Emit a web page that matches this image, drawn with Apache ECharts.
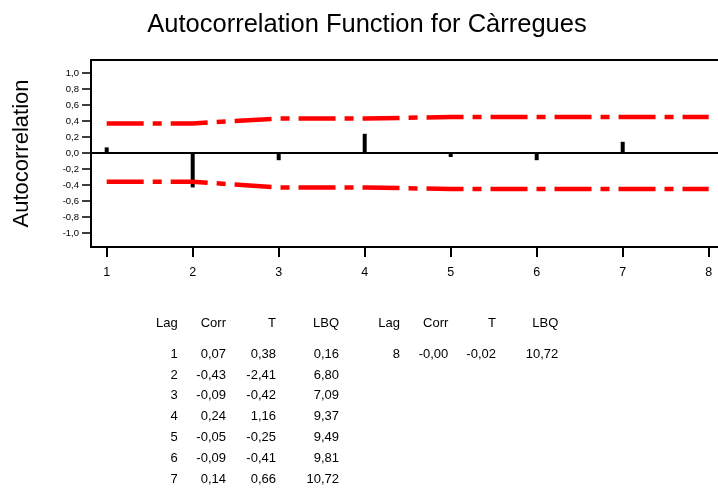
<!DOCTYPE html>
<html>
<head>
<meta charset="utf-8">
<script src="https://cdn.jsdelivr.net/npm/echarts@6/dist/echarts.min.js"></script>
<style>
html,body{margin:0;padding:0;background:#fff;}
#chart{width:718px;height:491px;}
</style>
</head>
<body>
<div id="chart"></div>
<script>
// ---- data ----
var lags = [1, 2, 3, 4, 5, 6, 7, 8];
var corr = [0.07, -0.43, -0.09, 0.24, -0.05, -0.09, 0.14, -0.00];
var tStat = [0.38, -2.41, -0.42, 1.16, -0.25, -0.41, 0.66, -0.02];
var lbq = [0.16, 6.80, 7.09, 9.37, 9.49, 9.81, 10.72, 10.72];
var upperLimit = [0.37, 0.37, 0.43, 0.43, 0.45, 0.45, 0.45, 0.45];
var lowerLimit = [-0.36, -0.36, -0.43, -0.43, -0.45, -0.45, -0.45, -0.45];
var yTicks = [-1.0, -0.8, -0.6, -0.4, -0.2, 0.0, 0.2, 0.4, 0.6, 0.8, 1.0];
var tableHeaders = ['Lag', 'Corr', 'T', 'LBQ'];
var titleText = 'Autocorrelation Function for Càrregues';
var yAxisTitle = 'Autocorrelation';

// ---- helpers ----
function fmt(v, d) {
  var s = v.toFixed(d);
  if (Object.is(v, -0)) s = '-' + (0).toFixed(d);
  return s.replace('.', ',');
}

var FONT = '"Liberation Sans", Arial, sans-serif';

var chart = echarts.init(document.getElementById('chart'), null, {renderer: 'canvas'});

// table as graphic texts
var graphics = [];
var blockCols = [[177.7, 226, 276, 339], [400, 448.3, 496, 558.3]];
var headerY = 323;
var rowY0 = 354.3;
var rowStep = 20.78;
var rowsPerBlock = 7;
var tableFont = '13px ' + FONT;
blockCols.forEach(function (cols) {
  tableHeaders.forEach(function (h, c) {
    graphics.push({
      type: 'text', x: cols[c], y: headerY,
      style: {text: h, font: tableFont, fill: '#000', align: 'right', verticalAlign: 'middle'}
    });
  });
});
lags.forEach(function (lag, i) {
  var b = Math.floor(i / rowsPerBlock);
  var r = i % rowsPerBlock;
  var cols = blockCols[b];
  var y = rowY0 + r * rowStep;
  var vals = [String(lag), fmt(corr[i], 2), fmt(tStat[i], 2), fmt(lbq[i], 2)];
  vals.forEach(function (t, c) {
    graphics.push({
      type: 'text', x: cols[c], y: y,
      style: {text: t, font: tableFont, fill: '#000', align: 'right', verticalAlign: 'middle'}
    });
  });
});

var xMin = 0.8174;
var xMax = 8.108;

var option = {
  animation: false,
  backgroundColor: '#fff',
  title: {
    text: titleText,
    left: 362,
    textAlign: 'center',
    top: 7,
    textStyle: {fontFamily: FONT, fontSize: 25.5, fontWeight: 'normal', color: '#000'}
  },
  grid: {
    left: 91, top: 60, right: 0, bottom: 244,
    show: false
  },
  xAxis: [{
    type: 'value',
    min: xMin, max: xMax,
    position: 'bottom',
    axisLine: {show: true, onZero: false, lineStyle: {color: '#000', width: 2}},
    axisTick: {show: true, length: 10, lineStyle: {color: '#000', width: 2}, customValues: lags},
    axisLabel: {customValues: lags, margin: 19, fontFamily: FONT, fontSize: 12.5, color: '#000',
      formatter: function (v) { return String(Math.round(v)); }},
    splitLine: {show: false}
  }, {
    type: 'value',
    min: xMin, max: xMax,
    position: 'top',
    axisLine: {show: true, onZero: false, lineStyle: {color: '#000', width: 2}},
    axisTick: {show: false},
    axisLabel: {show: false},
    splitLine: {show: false}
  }],
  yAxis: {
    type: 'value',
    min: -1.175, max: 1.1625,
    name: yAxisTitle,
    nameLocation: 'middle',
    nameGap: 58,
    nameTextStyle: {fontFamily: FONT, fontSize: 22, color: '#000'},
    axisLine: {show: true, onZero: false, lineStyle: {color: '#000', width: 2}},
    axisTick: {show: true, length: 9, lineStyle: {color: '#000', width: 1.5}, customValues: yTicks},
    axisLabel: {customValues: yTicks, margin: 12, fontFamily: FONT, fontSize: 9.5, color: '#000',
      formatter: function (v) { return fmt(v, 1); }},
    splitLine: {show: false}
  },
  series: [
    {
      type: 'custom',
      data: lags.map(function (l, i) { return [l, corr[i]]; }),
      encode: {x: 0, y: 1},
      z: 3,
      renderItem: function (params, api) {
        var p0 = api.coord([api.value(0), 0]);
        var p1 = api.coord([api.value(0), api.value(1)]);
        var w = 4;
        return {
          type: 'rect',
          shape: {x: p0[0] - w / 2, y: Math.min(p0[1], p1[1]), width: w, height: Math.abs(p1[1] - p0[1])},
          style: {fill: '#000'}
        };
      },
      markLine: {
        silent: true,
        symbol: 'none',
        label: {show: false},
        lineStyle: {color: '#000', width: 2, type: 'solid'},
        data: [{yAxis: 0}]
      }
    },
    {
      type: 'line',
      data: lags.map(function (l, i) { return [l, upperLimit[i]]; }),
      showSymbol: false,
      symbol: 'none',
      lineStyle: {color: '#ff0000', width: 4.5, type: [37, 9, 9, 9], cap: 'butt'},
      z: 4
    },
    {
      type: 'line',
      data: lags.map(function (l, i) { return [l, lowerLimit[i]]; }),
      showSymbol: false,
      symbol: 'none',
      lineStyle: {color: '#ff0000', width: 4.5, type: [37, 9, 9, 9], cap: 'butt'},
      z: 4
    }
  ],
  graphic: graphics
};
chart.setOption(option);
</script>
</body>
</html>
